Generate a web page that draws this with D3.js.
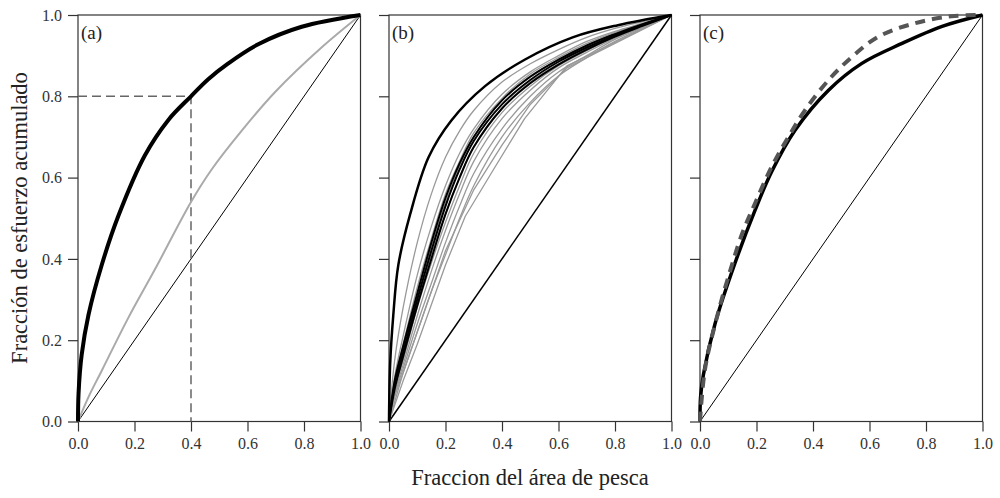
<!DOCTYPE html>
<html>
<head>
<meta charset="utf-8">
<script src="https://cdn.jsdelivr.net/npm/d3@7"></script>
<style>
  body { margin: 0; background: #fff; }
  svg text { font-family: "Liberation Serif", "Times New Roman", serif; }
</style>
</head>
<body>
<svg id="chart" width="1000" height="498"></svg>
<script>
// ---- data ----
var tickValues = [0.0, 0.2, 0.4, 0.6, 0.8, 1.0];
var panelLabels = ["(a)", "(b)", "(c)"];
var xTitle = "Fraccion del área de pesca";
var yTitle = "Fracción de esfuerzo acumulado";

// panel (a)
var aBlackX = [0, 0.002, 0.013, 0.037, 0.084, 0.143, 0.237, 0.32, 0.4, 0.461, 0.532, 0.638, 0.792, 1];
var aBlackY = [0, 0.07, 0.164, 0.262, 0.385, 0.506, 0.655, 0.742, 0.8, 0.842, 0.881, 0.928, 0.971, 1];
var aGrayX = [0, 0.037, 0.084, 0.178, 0.273, 0.4, 0.473, 0.579, 0.697, 0.862, 1];
var aGrayY = [0, 0.06, 0.125, 0.255, 0.375, 0.54, 0.62, 0.715, 0.81, 0.92, 1];
var aGuideX = [0, 0.4, 0.4];
var aGuideY = [0.8, 0.8, 0];

// panel (b)
var bOuterX = [0, 0.004, 0.015, 0.033, 0.075, 0.14, 0.22, 0.34, 0.48, 0.65, 0.81, 1];
var bOuterY = [0, 0.14, 0.26, 0.385, 0.51, 0.65, 0.74, 0.825, 0.89, 0.945, 0.975, 1];
var bGridX = [0, 0.02, 0.05, 0.1, 0.15, 0.2, 0.25, 0.3, 0.4, 0.5, 0.6, 0.7, 0.8, 0.9, 1];
var bBlack1 = [0, 0.09, 0.17, 0.30, 0.42, 0.53, 0.62, 0.69, 0.78, 0.84, 0.885, 0.92, 0.95, 0.976, 1];
var bBlack2 = [0, 0.08, 0.16, 0.285, 0.40, 0.51, 0.60, 0.675, 0.77, 0.832, 0.878, 0.915, 0.947, 0.974, 1];
var bBlack3 = [0, 0.10, 0.185, 0.315, 0.44, 0.55, 0.635, 0.70, 0.79, 0.848, 0.89, 0.925, 0.953, 0.978, 1];
var bGrayU1 = [0, 0.15, 0.28, 0.44, 0.56, 0.65, 0.715, 0.765, 0.835, 0.88, 0.915, 0.945, 0.967, 0.984, 1];
var bGrayU2 = [0, 0.11, 0.21, 0.36, 0.48, 0.58, 0.66, 0.72, 0.805, 0.86, 0.90, 0.935, 0.96, 0.98, 1];
var bGrayU3 = [0, 0.10, 0.19, 0.33, 0.45, 0.56, 0.64, 0.71, 0.795, 0.855, 0.895, 0.93, 0.957, 0.979, 1];
var bGrayN1 = [0, 0.09, 0.18, 0.31, 0.43, 0.54, 0.63, 0.70, 0.79, 0.85, 0.89, 0.925, 0.955, 0.978, 1];
var bGrayN2 = [0, 0.085, 0.16, 0.29, 0.41, 0.51, 0.60, 0.675, 0.77, 0.835, 0.88, 0.918, 0.95, 0.975, 1];
var bGrayN3 = [0, 0.08, 0.15, 0.28, 0.39, 0.49, 0.58, 0.66, 0.76, 0.825, 0.875, 0.912, 0.946, 0.973, 1];
var bGrayN4 = [0, 0.07, 0.14, 0.26, 0.37, 0.47, 0.56, 0.64, 0.745, 0.815, 0.87, 0.908, 0.943, 0.972, 1];
var bGrayL1 = [0, 0.065, 0.13, 0.24, 0.34, 0.44, 0.53, 0.61, 0.72, 0.80, 0.86, 0.90, 0.94, 0.97, 1];
var bGrayL2 = [0, 0.06, 0.12, 0.22, 0.32, 0.41, 0.50, 0.58, 0.70, 0.785, 0.85, 0.895, 0.935, 0.968, 1];
var bLowX = [0, 0.05, 0.1, 0.2, 0.27, 0.37, 0.48, 0.63, 1];
var bLowY = [0, 0.10, 0.19, 0.385, 0.505, 0.62, 0.745, 0.875, 1];
var bLow2X = [0, 0.05, 0.1, 0.2, 0.3, 0.4, 0.5, 0.63, 0.70, 1];
var bLow2Y = [0, 0.12, 0.22, 0.42, 0.57, 0.68, 0.78, 0.87, 0.895, 1];

// panel (c)
var cBlackX = [0, 0.002, 0.012, 0.053, 0.124, 0.195, 0.254, 0.337, 0.455, 0.573, 0.715, 0.857, 1];
var cBlackY = [0, 0.06, 0.115, 0.24, 0.39, 0.52, 0.615, 0.717, 0.815, 0.881, 0.93, 0.972, 1];
var cDashX = [0, 0.018, 0.065, 0.10, 0.148, 0.195, 0.254, 0.313, 0.372, 0.455, 0.538, 0.632, 0.762, 0.89, 1];
var cDashY = [0, 0.13, 0.27, 0.355, 0.46, 0.537, 0.627, 0.70, 0.766, 0.84, 0.897, 0.947, 0.98, 0.997, 1];

var diagonal = [0, 1];

// ---- layout ----
var svg = d3.select("#chart");
var panelLeft = [78, 389, 700];
var panelW = 282.5;
var plotTop = 15, plotBottom = 421.5;
var smooth = d3.curveCatmullRom.alpha(0.5);

function zip(xs, ys) { return xs.map((v, i) => [v, ys[i]]); }

function drawPanel(k)
{
    var x = d3.scaleLinear().domain([0, 1]).range([panelLeft[k], panelLeft[k] + panelW]);
    var y = d3.scaleLinear().domain([0, 1]).range([plotBottom, plotTop]);

    var g = svg.append("g");

    // axes
    var xAxis = g.append("g")
        .attr("transform", "translate(0," + plotBottom + ")")
        .call(d3.axisBottom(x).tickValues(tickValues).tickSize(10).tickPadding(6).tickFormat(d3.format(".1f")));
    var yAxis = g.append("g")
        .attr("transform", "translate(" + panelLeft[k] + ",0)")
        .call(d3.axisLeft(y).tickValues(tickValues).tickSize(10).tickPadding(6).tickFormat(d3.format(".1f")));
    g.selectAll(".domain").remove();
    g.selectAll(".tick line").attr("stroke", "#333").attr("stroke-width", 1.2);
    g.selectAll(".tick text")
        .style("font-family", "'Liberation Serif', serif")
        .style("font-size", "16px")
        .attr("fill", "#333");
    if (k > 0) yAxis.selectAll("text").remove();

    g.append("rect")
        .attr("x", x(0)).attr("y", y(1))
        .attr("width", x(1) - x(0)).attr("height", y(0) - y(1))
        .attr("fill", "none").attr("stroke", "#333").attr("stroke-width", 1.2);

    g.append("text")
        .attr("x", x(0) + 3).attr("y", y(1) + 24)
        .text(panelLabels[k])
        .style("font-size", "19px")
        .attr("fill", "#222");

    return {g: g, x: x, y: y};
}

function addLine(p, pts, color, width, curve, dash)
{
    var line = d3.line().x(d => p.x(d[0])).y(d => p.y(d[1])).curve(curve || smooth);
    var path = p.g.append("path")
        .datum(pts)
        .attr("d", line)
        .attr("fill", "none")
        .attr("stroke", color)
        .attr("stroke-width", width)
        .attr("stroke-linejoin", "round");
    if (dash) path.attr("stroke-dasharray", dash);
    return path;
}

// panel a
var pa = drawPanel(0);
addLine(pa, zip(diagonal, diagonal), "#000", 1, d3.curveLinear);
addLine(pa, zip(aGuideX, aGuideY), "#666", 1.5, d3.curveLinear, "9,5");
addLine(pa, zip(aGrayX, aGrayY), "#aaa", 2);
addLine(pa, zip(aBlackX, aBlackY), "#000", 4);

// panel b
var pb = drawPanel(1);
addLine(pb, zip(diagonal, diagonal), "#000", 1.5, d3.curveLinear);
[bGrayU1, bGrayU2, bGrayU3, bGrayN1, bGrayN2, bGrayN3, bGrayN4, bGrayL1, bGrayL2].forEach(function(s) {
    addLine(pb, zip(bGridX, s), "#999", 1.3);
});
addLine(pb, zip(bLowX, bLowY), "#999", 1.3, d3.curveLinear);
addLine(pb, zip(bLow2X, bLow2Y), "#999", 1.3, d3.curveLinear);
[bBlack1, bBlack2, bBlack3].forEach(function(s) {
    addLine(pb, zip(bGridX, s), "#000", 2);
});
addLine(pb, zip(bOuterX, bOuterY), "#000", 2.5);

// panel c
var pc = drawPanel(2);
addLine(pc, zip(diagonal, diagonal), "#000", 1, d3.curveLinear);
addLine(pc, zip(cBlackX, cBlackY), "#000", 3.5);
addLine(pc, zip(cDashX, cDashY), "#555", 4, null, "10,7");

// titles
svg.append("text")
    .attr("x", 530).attr("y", 485)
    .attr("text-anchor", "middle")
    .style("font-size", "22.5px")
    .attr("fill", "#222")
    .text(xTitle);
svg.append("text")
    .attr("transform", "translate(27,218) rotate(-90)")
    .attr("text-anchor", "middle")
    .style("font-size", "22.5px")
    .attr("fill", "#222")
    .text(yTitle);
</script>
</body>
</html>
